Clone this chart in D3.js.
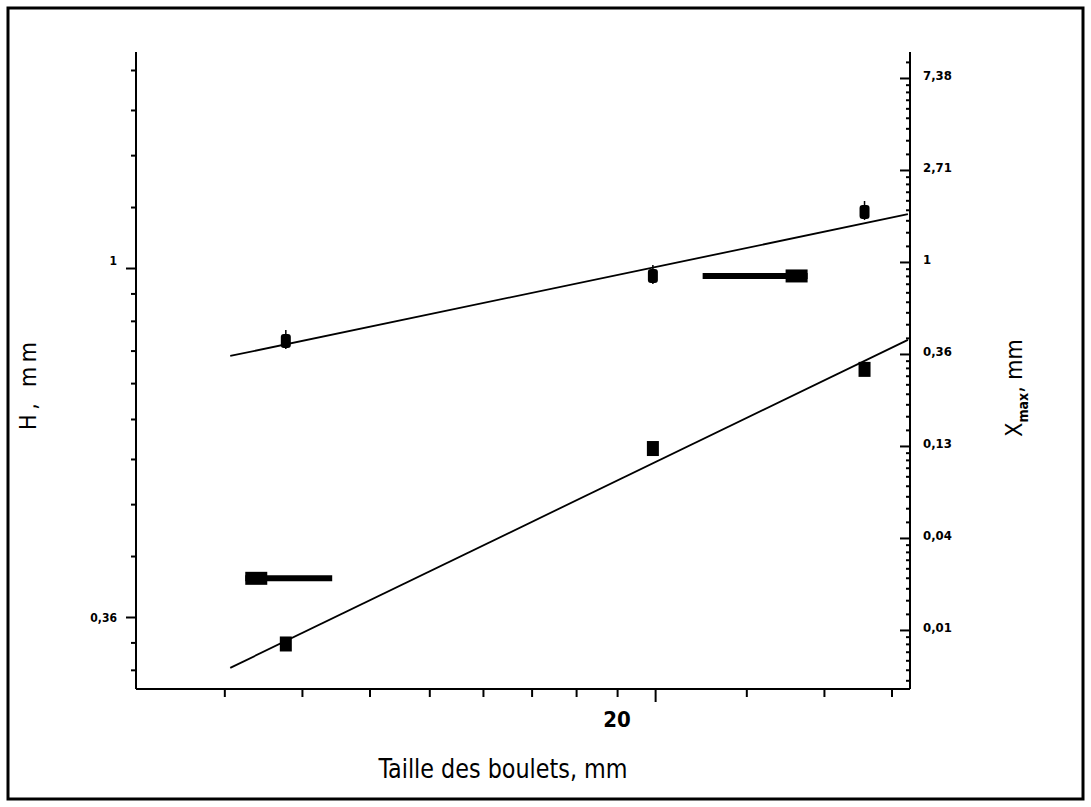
<!DOCTYPE html>
<html>
<head>
<meta charset="utf-8">
<script src="https://cdn.jsdelivr.net/npm/d3@7"></script>
<style>
  body { margin: 0; background: #fff; }
  text { fill: #000; }
</style>
</head>
<body>
<script>
// ball size (mm) and the two measured series
var sizes = [9.9, 20, 30];
var leftSeries = [0.341, 0.597, 0.749];   // squares, read on the left axis
var rightSeries = [0.424, 0.859, 1.722];  // circles, read on the right axis

// fitted straight lines (log-log)
var fitX = [8.9, 32.6];
var fitLeft = [0.318, 0.814];
var fitRight = [0.360, 1.680];

// arrows telling which axis a line belongs to
var arrowRightX = [22.0, 26.9], arrowRightY = 0.859;
var arrowLeftX = [9.16, 10.82], arrowLeftY = 0.411;

// axes (natural log scales)
var xDomain = [7.43, 32.73];
var leftDomain = [0.2993, 1.857];
var rightDomain = [0.00964, 9.80];
var xMajor = [Math.exp(3)], xLabels = ['20'];
var leftMajor = [Math.exp(-1), 1], leftLabels = ['0,36', '1'];
var rightMajor = [-4, -3, -2, -1, 0, 1, 2].map(Math.exp);
var rightLabels = ['0,01', '0,04', '0,13', '0,36', '1', '2,71', '7,38'];

var width = 1091, height = 807;
var plotL = 136, plotR = 910, plotT = 52, plotB = 689;

var svg = d3.select('body').append('svg')
  .attr('width', width)
  .attr('height', height);

svg.append('rect')
  .attr('x', 8).attr('y', 8)
  .attr('width', 1075).attr('height', 791)
  .attr('fill', 'none').attr('stroke', '#000').attr('stroke-width', 3);

var x = d3.scaleLog().base(Math.E).domain(xDomain).range([plotL, plotR]);
var yL = d3.scaleLog().base(Math.E).domain(leftDomain).range([plotB, plotT]);
var yR = d3.scaleLog().base(Math.E).domain(rightDomain).range([plotB, plotT]);

// minor ticks: 8 evenly spaced values between e^k and e^(k+1)
var minors = function(scale) {
  var d = scale.domain(), out = [];
  for (var k = Math.floor(Math.log(d[0])); k <= Math.ceil(Math.log(d[1])); k++) {
    var a = Math.exp(k), b = Math.exp(k + 1);
    for (var j = 1; j < 9; j++) {
      var v = a + j * (b - a) / 9;
      if (v > d[0] && v < d[1]) out.push(v);
    }
  }
  return out;
};

var font = '"DejaVu Sans Condensed", "DejaVu Sans", sans-serif';

// bottom axis
var gx = svg.append('g').attr('transform', 'translate(0,' + plotB + ')');
gx.append('g').call(d3.axisBottom(x).tickValues(minors(x)).tickSize(8).tickFormat(''))
  .call(function(g) { g.select('.domain').remove(); });
gx.append('g').call(d3.axisBottom(x).tickValues(xMajor).tickSize(13).tickFormat(''))
  .call(function(g) { g.select('.domain').remove(); });
gx.selectAll('.tick line').attr('stroke', '#000').attr('stroke-width', 2);
gx.selectAll('.xlab').data(xMajor).enter().append('text')
  .attr('x', function(d) { return x(d) - 38; })
  .attr('y', 38)
  .attr('text-anchor', 'middle')
  .style('font', 'bold 22px ' + font)
  .text(function(d, i) { return xLabels[i]; });
svg.append('line')
  .attr('x1', plotL).attr('x2', plotR).attr('y1', plotB).attr('y2', plotB)
  .attr('stroke', '#000').attr('stroke-width', 2);

// left axis
var gl = svg.append('g').attr('transform', 'translate(' + plotL + ',0)');
gl.append('g').call(d3.axisLeft(yL).tickValues(minors(yL)).tickSize(5).tickFormat(''))
  .call(function(g) { g.select('.domain').remove(); });
gl.append('g').call(d3.axisLeft(yL).tickValues(leftMajor).tickSize(10).tickFormat(''))
  .call(function(g) { g.select('.domain').remove(); });
gl.selectAll('.tick line').attr('stroke', '#000').attr('stroke-width', 2);
gl.selectAll('.ylab').data(leftMajor).enter().append('text')
  .attr('x', -19)
  .attr('y', function(d) { return yL(d) + (d === 1 ? -3 : 5); })
  .attr('text-anchor', 'end')
  .style('font', 'bold 12px ' + font)
  .text(function(d, i) { return leftLabels[i]; });
svg.append('line')
  .attr('x1', plotL).attr('x2', plotL).attr('y1', plotT).attr('y2', plotB)
  .attr('stroke', '#000').attr('stroke-width', 2);

// right axis (ticks inside)
var gr = svg.append('g').attr('transform', 'translate(' + plotR + ',0)');
gr.append('g').call(d3.axisLeft(yR).tickValues(minors(yR)).tickSize(4).tickFormat(''))
  .call(function(g) { g.select('.domain').remove(); });
gr.append('g').call(d3.axisLeft(yR).tickValues(rightMajor).tickSize(10).tickFormat(''))
  .call(function(g) { g.select('.domain').remove(); });
gr.selectAll('.tick line').attr('stroke', '#000').attr('stroke-width', 2);
gr.selectAll('.rlab').data(rightMajor).enter().append('text')
  .attr('x', 13)
  .attr('y', function(d) { return yR(d) + 2; })
  .style('font', 'bold 13px ' + font)
  .text(function(d, i) { return rightLabels[i]; });
svg.append('line')
  .attr('x1', plotR).attr('x2', plotR).attr('y1', plotT).attr('y2', plotB)
  .attr('stroke', '#000').attr('stroke-width', 2);

// fit lines
var fitLine = function(scale, ys) {
  return d3.line()
    .x(function(d, i) { return x(fitX[i]); })
    .y(function(d) { return scale(d); })(ys);
};
svg.append('path').attr('d', fitLine(yR, fitRight))
  .attr('fill', 'none').attr('stroke', '#000').attr('stroke-width', 1.8);
svg.append('path').attr('d', fitLine(yL, fitLeft))
  .attr('fill', 'none').attr('stroke', '#000').attr('stroke-width', 1.8);

// right-axis points (rounded markers with small error bars)
var up = svg.selectAll('.up').data(rightSeries).enter().append('g');
up.append('line')
  .attr('x1', function(d, i) { return x(sizes[i]); })
  .attr('x2', function(d, i) { return x(sizes[i]); })
  .attr('y1', function(d) { return yR(d) - 11; })
  .attr('y2', function(d) { return yR(d) + 8; })
  .attr('stroke', '#000').attr('stroke-width', 1.5);
up.append('rect')
  .attr('x', function(d, i) { return x(sizes[i]) - 5; })
  .attr('y', function(d) { return yR(d) - 7; })
  .attr('width', 10).attr('height', 14).attr('rx', 3)
  .attr('fill', '#000');

// left-axis points (squares)
svg.selectAll('.sq').data(leftSeries).enter().append('rect')
  .attr('x', function(d, i) { return x(sizes[i]) - 6; })
  .attr('y', function(d) { return yL(d) - 7; })
  .attr('width', 12).attr('height', 15)
  .attr('fill', '#000');

// arrows
var arrow = function(xs, yv, scale, headAtEnd) {
  var x0 = x(xs[0]), x1 = x(xs[1]), yy = scale(yv);
  svg.append('line')
    .attr('x1', x0).attr('x2', x1).attr('y1', yy).attr('y2', yy)
    .attr('stroke', '#000').attr('stroke-width', 6);
  var hx = headAtEnd ? x1 - 22 : x0;
  svg.append('rect')
    .attr('x', hx).attr('y', yy - 6.5)
    .attr('width', 22).attr('height', 13)
    .attr('fill', '#000');
};
arrow(arrowRightX, arrowRightY, yR, true);
arrow(arrowLeftX, arrowLeftY, yL, false);

// axis titles
svg.append('text')
  .attr('x', 503).attr('y', 778)
  .attr('text-anchor', 'middle')
  .attr('textLength', 249).attr('lengthAdjust', 'spacingAndGlyphs')
  .style('font', '27px ' + font)
  .text('Taille des boulets, mm');

svg.append('text')
  .attr('transform', 'translate(36,386) rotate(-90)')
  .attr('text-anchor', 'middle')
  .attr('textLength', 88).attr('lengthAdjust', 'spacing')
  .style('font', '23px ' + font)
  .text('H, mm');

var rt = svg.append('text')
  .attr('transform', 'translate(1022,388) rotate(-90)')
  .attr('text-anchor', 'middle')
  .style('font', '23px ' + font);
rt.append('tspan').text('X');
rt.append('tspan').attr('dy', 6).style('font', 'bold 14px ' + font).text('max');
rt.append('tspan').attr('dy', -6).text(', mm');
</script>
</body>
</html>
